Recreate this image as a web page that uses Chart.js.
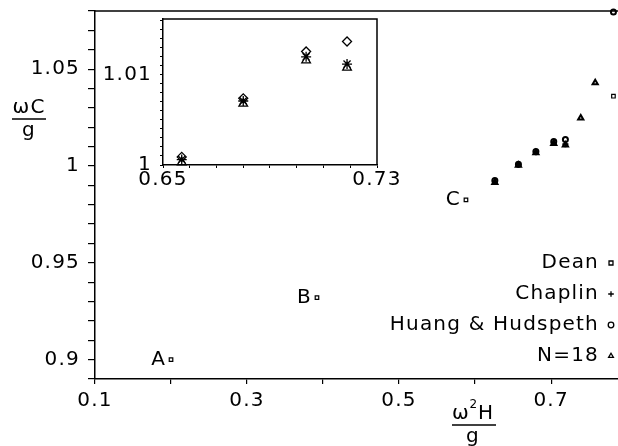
<!DOCTYPE html>
<html>
<head>
<meta charset="utf-8">
<script src="https://cdn.jsdelivr.net/npm/chart.js@4/dist/chart.umd.min.js"></script>
<style>
  body { margin:0; background:#fff; }
  #wrap { position:relative; width:618px; height:446px; }
  #main { position:absolute; left:0; top:0; }
  #inset { position:absolute; left:100px; top:0; }
</style>
</head>
<body>
<div id="wrap">
  <canvas id="main" width="618" height="446"></canvas>
  <canvas id="inset" width="300" height="200"></canvas>
</div>
<script>
// data
const deanPts    = [[0.2,0.9],[0.392,0.932],[0.588,0.9825],[0.782,1.036]];
const chaplinPts = [[0.626,0.992],[0.657,1.0006],[0.680,1.0071],[0.7035,1.012],[0.7188,1.0112]];
const huangPts   = [[0.626,0.9925],[0.657,1.0009],[0.680,1.0074],[0.7035,1.0126],[0.7188,1.0137],[0.782,1.0795]];
const n18Pts     = [[0.626,0.9915],[0.657,1.0003],[0.680,1.0068],[0.7035,1.0116],[0.7188,1.0108],[0.739,1.0247],[0.758,1.043]];
const pointLabels = [['A',0.2,0.9],['B',0.392,0.932],['C',0.588,0.9825]];
const legendNames = ['Dean','Chaplin','Huang & Hudspeth','N=18'];
const legendStyles = ['rect','cross','circle','triangle'];
const mainXTicks = [0.1,0.3,0.5,0.7];
const mainYTicks = [0.9,0.95,1,1.05];
const insetXTicks = [0.65,0.73];
const insetYTicks = [1,1.01];

const FONT = '"DejaVu Sans", sans-serif';
const FS = 20;
const toXY = a => a.map(p => ({x:p[0], y:p[1]}));
const near = (v, list) => list.some(t => Math.abs(v - t) < 1e-6);

function ds(label, pts, style, r, bw) {
  return { label, data: toXY(pts), pointStyle: style, pointRadius: r,
    borderColor:'#000', backgroundColor:'rgba(255,255,255,0)', pointBorderWidth: bw,
    showLine:false, clip:false };
}

const spacing = {
  id:'spacing',
  beforeDraw(c) { c.ctx.letterSpacing = '1.2px'; }
};

const annot = {
  id:'annot',
  afterDraw(c) {
    const ctx = c.ctx, a = c.chartArea, xs = c.scales.x, ys = c.scales.y;
    ctx.save();
    ctx.strokeStyle = '#000'; ctx.lineWidth = 1.5;
    ctx.beginPath(); ctx.moveTo(a.left, a.top); ctx.lineTo(a.right, a.top); ctx.stroke();
    ctx.fillStyle = '#000';
    ctx.font = FS + 'px ' + FONT;
    ctx.textBaseline = 'middle';
    ctx.textAlign = 'right';
    pointLabels.forEach(l => ctx.fillText(l[0], xs.getPixelForValue(l[1]) - 5, ys.getPixelForValue(l[2])));
    // legend
    legendNames.forEach((n, i) => {
      const y = 263 + i * 31;
      ctx.fillStyle = '#000';
      ctx.textAlign = 'right';
      ctx.fillText(n, 599, y);
      ctx.fillStyle = '#fff';
      ctx.lineWidth = 1.3;
      Chart.helpers.drawPoint(ctx, {pointStyle: legendStyles[i], radius: 2.8, borderWidth: 1.3}, 611, y);
    });
    ctx.fillStyle = '#000';
    // axis titles as fractions
    ctx.textAlign = 'center';
    ctx.fillText('\u03c9C', 29, 108);
    ctx.fillText('g', 29, 131);
    ctx.lineWidth = 1.5;
    ctx.beginPath(); ctx.moveTo(12, 119); ctx.lineTo(46, 119); ctx.stroke();
    ctx.fillText('\u03c9', 461, 414);
    ctx.fillText('H', 486, 414);
    ctx.font = '12px ' + FONT;
    ctx.fillText('2', 474, 405);
    ctx.font = FS + 'px ' + FONT;
    ctx.fillText('g', 473, 437);
    ctx.beginPath(); ctx.moveTo(452, 425); ctx.lineTo(496, 425); ctx.stroke();
    ctx.restore();
  }
};

new Chart(document.getElementById('main'), {
  type:'scatter',
  data:{ datasets:[
    ds('Dean', deanPts, 'rect', 2.5, 1.2),
    ds('Chaplin', chaplinPts, 'cross', 3, 2),
    ds('Huang & Hudspeth', huangPts, 'circle', 2.5, 2),
    ds('N=18', n18Pts, 'triangle', 3, 2)
  ]},
  options:{
    responsive:false, animation:false, events:[],
    layout:{ autoPadding:false, padding:{ top:11, right:0, left:0, bottom:0 } },
    plugins:{ legend:{display:false}, tooltip:{enabled:false} },
    scales:{
      x:{ type:'linear', min:0.1, max:0.788,
        afterFit: s => { s.height = 67; s.paddingLeft = 0; s.paddingRight = 0; },
        afterBuildTicks: s => { s.ticks = [0.1,0.2,0.3,0.4,0.5,0.6,0.7].map(v => ({value:v})); },
        ticks:{ color:'#000', font:{family:FONT, size:FS}, padding:5, maxRotation:0, autoSkip:false,
          callback: v => near(v, mainXTicks) ? String(+v.toFixed(2)) : '' },
        grid:{ drawOnChartArea:false, color:'#000', tickLength:5, lineWidth:1.2 },
        border:{ color:'#000', width:1.5 } },
      y:{ type:'linear', min:0.89, max:1.08,
        afterFit: s => { s.width = 95; s.paddingTop = 0; s.paddingBottom = 0; },
        afterBuildTicks: s => { const t=[]; for (let i=89;i<=108;i++) t.push({value:i/100}); s.ticks=t; },
        ticks:{ color:'#000', font:{family:FONT, size:FS}, padding:8, autoSkip:false,
          callback: v => near(v, mainYTicks) ? String(+v.toFixed(2)) : '' },
        grid:{ drawOnChartArea:false, color:'#000', tickLength:7, lineWidth:1.2 },
        border:{ color:'#000', width:1.5 } }
    }
  },
  plugins:[spacing, annot]
});

const frame = {
  id:'frame',
  afterDraw(c) {
    const ctx = c.ctx, a = c.chartArea;
    ctx.save(); ctx.strokeStyle='#000'; ctx.lineWidth=1.5;
    ctx.beginPath(); ctx.moveTo(a.left, a.top); ctx.lineTo(a.right, a.top); ctx.lineTo(a.right, a.bottom); ctx.stroke();
    ctx.restore();
  }
};

new Chart(document.getElementById('inset'), {
  type:'scatter',
  data:{ datasets:[
    ds('Chaplin', chaplinPts, 'star', 5, 1.3),
    ds('Huang & Hudspeth', huangPts, 'rectRot', 4.5, 1.3),
    ds('N=18', n18Pts, 'triangle', 5, 1.3)
  ]},
  options:{
    responsive:false, animation:false, events:[],
    layout:{ autoPadding:false, padding:{ top:19, right:23, left:0, bottom:0 } },
    plugins:{ legend:{display:false}, tooltip:{enabled:false} },
    scales:{
      x:{ type:'linear', min:0.65, max:0.73,
        afterFit: s => { s.height = 35; s.paddingLeft = 0; s.paddingRight = 0; },
        afterBuildTicks: s => { const t=[]; for (let i=65;i<=73;i++) t.push({value:i/100}); s.ticks=t; },
        ticks:{ color:'#000', font:{family:FONT, size:FS}, padding:0, maxRotation:0, autoSkip:false,
          callback: v => near(v, insetXTicks) ? v.toFixed(2) : '' },
        grid:{ drawOnChartArea:false, color:'#000', tickLength:3, lineWidth:1 },
        border:{ color:'#000', width:1.5 } },
      y:{ type:'linear', min:1, max:1.0162,
        afterFit: s => { s.width = 63; s.paddingTop = 0; s.paddingBottom = 0; },
        afterBuildTicks: s => { const t=[]; for (let i=0;i<=16;i++) t.push({value:1+i/1000}); s.ticks=t; },
        ticks:{ color:'#000', font:{family:FONT, size:FS}, padding:8, autoSkip:false,
          callback: v => near(v, insetYTicks) ? String(+v.toFixed(2)) : '' },
        grid:{ drawOnChartArea:false, color:'#000', tickLength:3, lineWidth:1 },
        border:{ color:'#000', width:1.5 } }
    }
  },
  plugins:[spacing, frame]
});
</script>
</body>
</html>
